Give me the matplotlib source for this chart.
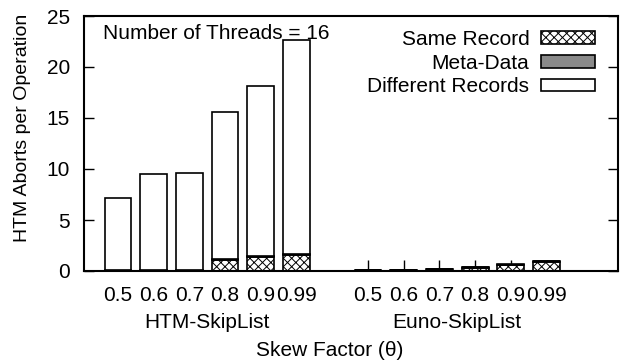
import numpy as np
import matplotlib
matplotlib.use('Agg')
import matplotlib.pyplot as plt

# 데이터
skew_labels = ['0.5', '0.6', '0.7', '0.8', '0.9', '0.99']
groups = ['HTM-SkipList', 'Euno-SkipList']

htm_same = [0.05, 0.08, 0.10, 1.10, 1.40, 1.60]
htm_meta = [0.02, 0.02, 0.02, 0.05, 0.05, 0.05]
htm_diff = [7.10, 9.40, 9.50, 14.45, 16.65, 20.95]

euno_same = [0.05, 0.10, 0.15, 0.30, 0.55, 0.85]
euno_meta = [0.02, 0.02, 0.03, 0.05, 0.08, 0.10]
euno_diff = [0.02, 0.02, 0.02, 0.03, 0.05, 0.05]

plt.rcParams['font.family'] = ['Liberation Sans', 'DejaVu Sans']
plt.rcParams['hatch.linewidth'] = 0.7
fs = 15

fig = plt.figure(figsize=(6.21, 3.63), dpi=100)
ax = fig.add_axes([84 / 621, 92 / 363, 534 / 621, 255 / 363])

n = len(skew_labels)
x_htm = np.arange(n)
x_euno = np.arange(n) + n + 1
x_all = np.concatenate([x_htm, x_euno])

same = np.array(htm_same + euno_same)
meta = np.array(htm_meta + euno_meta)
diff = np.array(htm_diff + euno_diff)

w = 0.75
lw = 1.2
ax.bar(x_all, same, w, color='white', edgecolor='black', hatch='xxxx',
       linewidth=lw, label='Same Record')
ax.bar(x_all, meta, w, bottom=same, color='#8a8a8a', edgecolor='black',
       linewidth=lw, label='Meta-Data')
ax.bar(x_all, diff, w, bottom=same + meta, color='white', edgecolor='black',
       linewidth=lw, label='Different Records')

ax.set_xlim(-0.95, 14.0)
ax.set_ylim(0, 25)
ax.set_axisbelow(True)

ax.set_xticks(x_all)
ax.set_xticklabels(skew_labels * 2, fontsize=fs)
ax.set_yticks(range(0, 26, 5))
ax.tick_params(axis='y', labelsize=fs, direction='in', length=7, width=1,
               right=True, pad=10)
ax.tick_params(axis='x', direction='in', length=8, width=1, pad=11)
for s in ax.spines.values():
    s.set_linewidth(1.5)

fig.text(23 / 621, 1 - 128 / 363, 'HTM Aborts per Operation', rotation=90,
         ha='center', va='center', fontsize=14)

# 그룹 이름
for xc, g in zip([x_htm.mean(), x_euno.mean()], groups):
    ax.text(xc, -0.165, g, transform=ax.get_xaxis_transform(),
            ha='center', va='top', fontsize=fs)
fig.text(330 / 621, 13 / 363, 'Skew Factor (θ)', ha='center',
         va='center', fontsize=fs)

ax.text(0.035, 0.93, 'Number of Threads = 16', transform=ax.transAxes,
        ha='left', va='center', fontsize=fs)

ax.legend(loc='upper right', bbox_to_anchor=(0.957, 0.945), frameon=False,
          markerfirst=False, fontsize=fs, handlelength=2.6, handleheight=0.55,
          handletextpad=0.55, labelspacing=0.22, borderpad=0, borderaxespad=0)

plt.savefig('out.png', dpi=100)
plt.close()
